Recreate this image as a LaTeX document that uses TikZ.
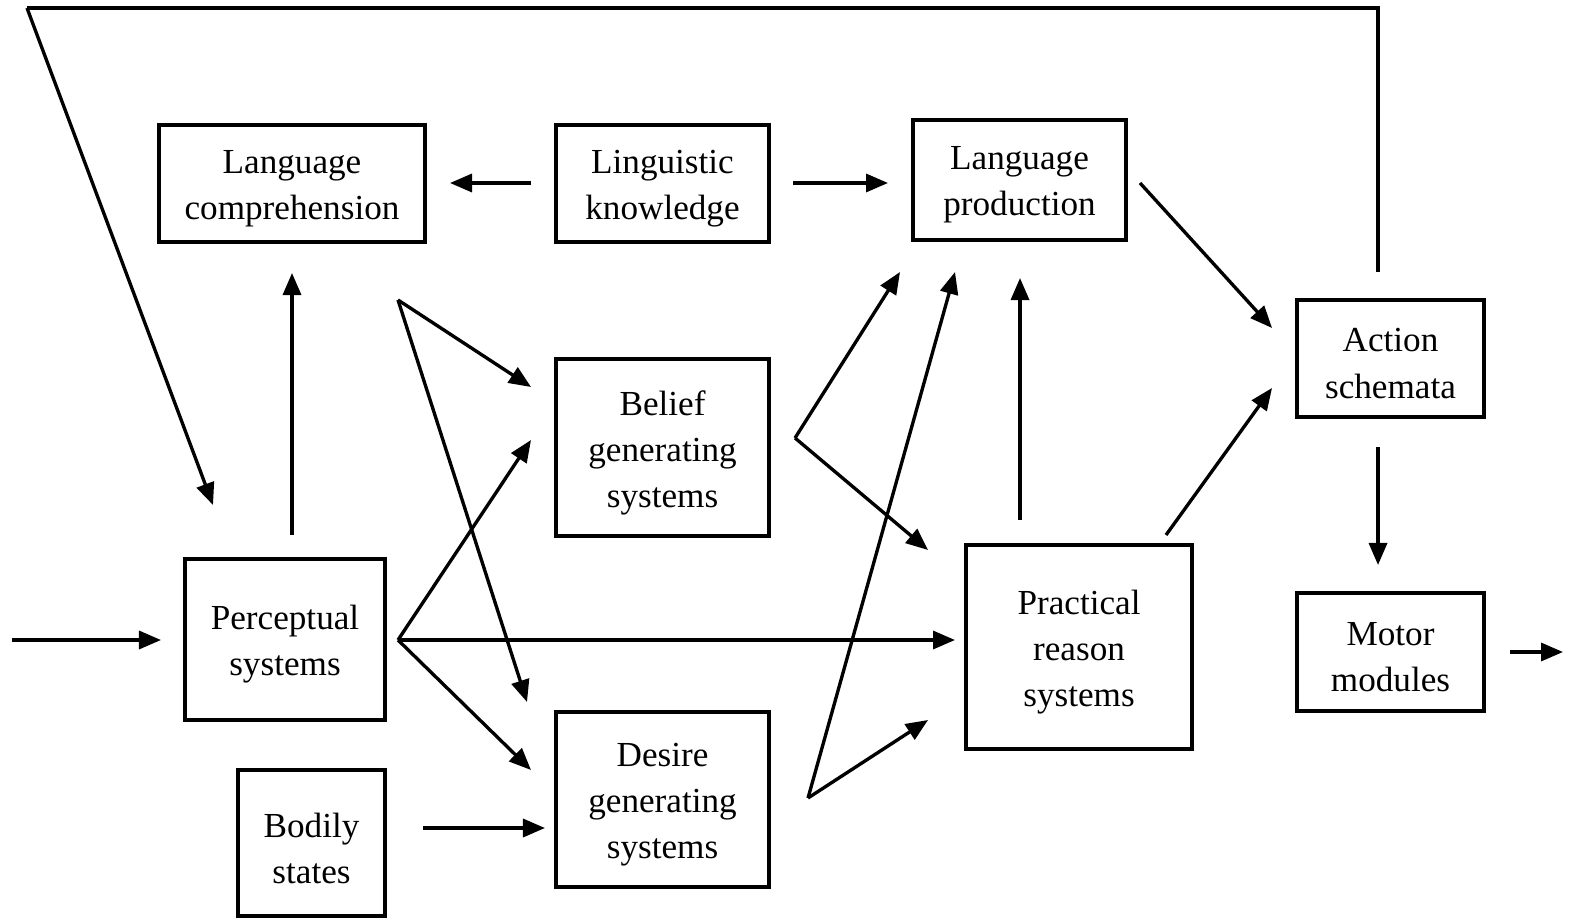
\documentclass[tikz,border=0pt]{standalone}
\usepackage{fontspec}
\setmainfont{Liberation Serif}
\usetikzlibrary{arrows.meta}
\begin{document}
\begin{tikzpicture}[x=0.01cm,y=-0.01cm,
  box/.style={draw, line width=1.15pt, inner sep=0pt},
  txt/.style={align=center, inner sep=0pt, yshift=-0.05cm,
    font=\fontsize{10}{13.1}\selectfont},
  link/.style={line width=0.95pt, -{Triangle[length=2.2mm,width=1.8mm]}},
  plain/.style={line width=1pt}]
\useasboundingbox (0,0) rectangle (1571,919);

% boxes, each with its centred caption
\node[box, minimum width=266*0.01cm, minimum height=117*0.01cm,
  label={[txt]center:{Language\\comprehension}}] (lc) at (292,183.5) {};
\node[box, minimum width=213*0.01cm, minimum height=117*0.01cm,
  label={[txt]center:{Linguistic\\knowledge}}] (lk) at (662.5,183.5) {};
\node[box, minimum width=213*0.01cm, minimum height=120*0.01cm,
  label={[txt]center:{Language\\production}}] (lp) at (1019.5,180) {};
\node[box, minimum width=213*0.01cm, minimum height=177*0.01cm,
  label={[txt]center:{Belief\\generating\\systems}}] (bg) at (662.5,447.5) {};
\node[box, minimum width=200*0.01cm, minimum height=161*0.01cm,
  label={[txt]center:{Perceptual\\systems}}] (ps) at (285,639.5) {};
\node[box, minimum width=147*0.01cm, minimum height=146*0.01cm,
  label={[txt]center:{Bodily\\states}}] (bs) at (311.5,843) {};
\node[box, minimum width=213*0.01cm, minimum height=175*0.01cm,
  label={[txt]center:{Desire\\generating\\systems}}] (dg) at (662.5,799.5) {};
\node[box, minimum width=226*0.01cm, minimum height=204*0.01cm,
  label={[txt]center:{Practical\\reason\\systems}}] (pr) at (1079,647) {};
\node[box, minimum width=187*0.01cm, minimum height=117*0.01cm,
  label={[txt]center:{Action\\schemata}}] (as) at (1390.5,358.5) {};
\node[box, minimum width=187*0.01cm, minimum height=118*0.01cm,
  label={[txt]center:{Motor\\modules}}] (mm) at (1390.5,652) {};

% connector end points
\coordinate (fbA) at (1378,272);
\coordinate (fbB) at (1378,8);
\coordinate (fbC) at (27,8);
\coordinate (fbD) at (213,505);
\coordinate (inA) at (12,640);
\coordinate (inB) at (161,640);
\coordinate (psUpA) at (292,535);
\coordinate (psUpB) at (292,273);
\coordinate (lkL1) at (531,183);
\coordinate (lkL2) at (450,183);
\coordinate (lkR1) at (793,183);
\coordinate (lkR2) at (888,183);
\coordinate (lcFork) at (398,300);
\coordinate (lcBel) at (531,387);
\coordinate (lcDes) at (527,702);
\coordinate (psFork) at (398,640);
\coordinate (psBel) at (531,440);
\coordinate (psPr) at (955,640);
\coordinate (psDes) at (531,770);
\coordinate (bsA) at (423,828);
\coordinate (bsB) at (545,828);
\coordinate (bgFork) at (795,438);
\coordinate (bgLp) at (900,272);
\coordinate (bgPr) at (928,550);
\coordinate (dgFork) at (808,798);
\coordinate (dgLp) at (955,272);
\coordinate (dgPr) at (928,720);
\coordinate (prUpA) at (1020,520);
\coordinate (prUpB) at (1020,278);
\coordinate (lpAsA) at (1140,183);
\coordinate (lpAsB) at (1272,328);
\coordinate (prAsA) at (1166,535);
\coordinate (prAsB) at (1272,388);
\coordinate (asMmA) at (1378,447);
\coordinate (asMmB) at (1378,565);
\coordinate (outA) at (1510,652);
\coordinate (outB) at (1563,652);

% feedback loop from action schemata back to perception
\draw[plain] (fbA) -- (fbB) -- (fbC);
\draw[link] (fbC) -- (fbD);

% arrows
\draw[link] (inA) -- (inB);
\draw[link] (psUpA) -- (psUpB);
\draw[link] (lkL1) -- (lkL2);
\draw[link] (lkR1) -- (lkR2);
\draw[link] (lcFork) -- (lcBel);
\draw[link] (lcFork) -- (lcDes);
\draw[link] (psFork) -- (psBel);
\draw[link] (psFork) -- (psPr);
\draw[link] (psFork) -- (psDes);
\draw[link] (bsA) -- (bsB);
\draw[link] (bgFork) -- (bgLp);
\draw[link] (bgFork) -- (bgPr);
\draw[link] (dgFork) -- (dgLp);
\draw[link] (dgFork) -- (dgPr);
\draw[link] (prUpA) -- (prUpB);
\draw[link] (lpAsA) -- (lpAsB);
\draw[link] (prAsA) -- (prAsB);
\draw[link] (asMmA) -- (asMmB);
\draw[link] (outA) -- (outB);
\end{tikzpicture}
\end{document}
